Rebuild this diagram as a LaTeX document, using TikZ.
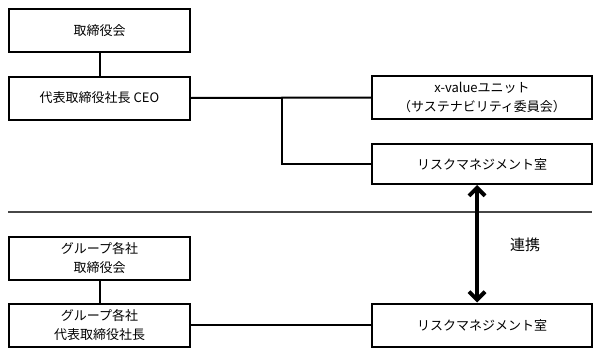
\documentclass[tikz,border=0pt]{standalone}
\usepackage{fontspec}
\setmainfont{Noto Sans CJK JP}
\usetikzlibrary{arrows.meta}
\begin{document}
\begin{tikzpicture}[x=1pt,y=-1pt,
  box/.style={draw, line width=2pt, minimum width=181pt, minimum height=43pt, inner sep=0pt, align=center, font=\fontsize{13}{19}\selectfont},
  wide/.style={box, minimum width=220pt},
  conn/.style={line width=2pt},
  sepline/.style={line width=2.2pt, draw=black!72},
  link/.style={line width=4pt, {Straight Barb[length=8pt,width=16pt]}-{Straight Barb[length=8pt,width=16pt]}}]
\useasboundingbox (0,0) rectangle (600,356);
\node[box] (b1) at (99.5,30.5) {取締役会};
\node[box] (b2) at (99.5,98) {代表取締役社長 CEO};
\node[wide] (xv) at (482,97.5) {x-valueユニット\\（サステナビリティ委員会）};
\node[wide, minimum height=40pt] (r1) at (482,164) {リスクマネジメント室};
\node[box] (g1) at (99.5,258.5) {グループ各社\\取締役会};
\node[box] (g2) at (99.5,325) {グループ各社\\代表取締役社長};
\node[wide] (r2) at (482,325) {リスクマネジメント室};
\draw[conn] (b1.south) -- (b2.north);
\draw[conn] (b2.east) -- (xv.west);
\coordinate (j) at (282,98);
\draw[conn] (j) |- (r1.west);
\draw[conn] (g1.south) -- (g2.north);
\draw[conn] (g2.east) -- (r2.west);
\coordinate (s1) at (8,212);
\coordinate (s2) at (592,212);
\draw[sepline] (s1) -- (s2);
\draw[link] ([xshift=-5pt]r1.south) -- ([xshift=-5pt]r2.north);
\node[font=\fontsize{15}{17}\selectfont] (lk) at (525,245) {連携};
\end{tikzpicture}
\end{document}
